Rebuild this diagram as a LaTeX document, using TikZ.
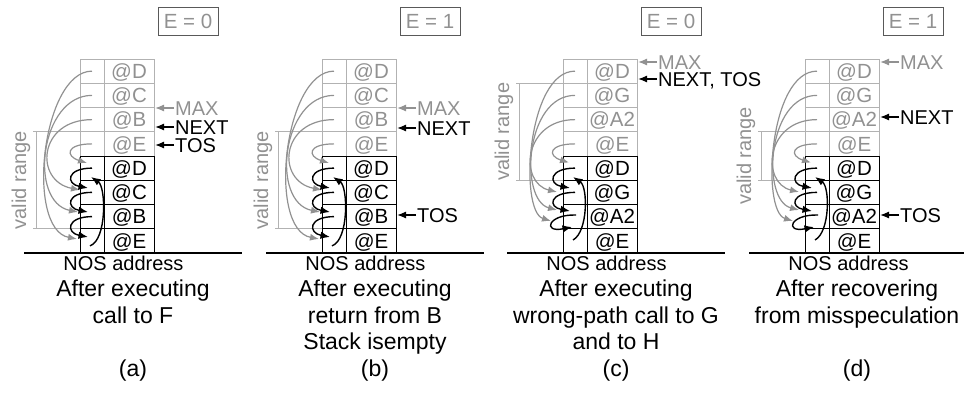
\documentclass[tikz,border=0pt]{standalone}
\usepackage{fontspec}
\setmainfont{Liberation Sans}
\usetikzlibrary{arrows.meta,calc}
\definecolor{gtxt}{gray}{0.57}
\definecolor{gln}{gray}{0.70}
\definecolor{boxln}{gray}{0.35}
\tikzset{
  cellbase/.style={inner sep=0pt, outer sep=0pt, minimum height=24.25pt, line width=0.9pt,
    font=\fontsize{20.5}{20.5}\selectfont, text height=14.6pt, text depth=0pt},
  gL/.style={cellbase, draw=gln, minimum width=24pt},
  gR/.style={cellbase, draw=gln, minimum width=50pt, text=gtxt},
  bL/.style={cellbase, draw=black, minimum width=24pt},
  bR/.style={cellbase, draw=black, minimum width=50pt, text=black},
  garr/.style={draw=gtxt, line width=1.2pt, -{Latex[length=9pt,width=7pt]}},
  barr/.style={draw=black, line width=1.4pt, -{Latex[length=9.5pt,width=7.5pt]}},
  ptr/.style={line width=1.3pt, -{Latex[length=9pt,width=7pt]}},
  lbl/.style={font=\fontsize{20}{20}\selectfont, inner sep=0pt, text height=14.3pt, text depth=0pt, anchor=west},
  captxt/.style={font=\fontsize{23}{23}\selectfont, inner sep=0pt, anchor=base},
  nos/.style={font=\fontsize{20}{20}\selectfont, inner sep=0pt, anchor=base},
  vrtext/.style={font=\fontsize{20}{20}\selectfont, text=gtxt, inner sep=0pt, rotate=90},
  vrline/.style={draw=gln, line width=0.9pt},
  ebox/.style={draw=boxln, line width=0.9pt, text=gtxt, font=\fontsize{20.5}{20.5}\selectfont,
    minimum width=60pt, minimum height=28pt, inner sep=0pt, text height=14.6pt, text depth=0pt},
  ground/.style={draw=black, line width=1.3pt},
}
% table: #1 prefix, #2 X, #3-#6 entry names
\newcommand\rsTable[6]{%
  \begin{scope}[shift={(#2,0)}]
    \foreach \i/\t in {1/#3,2/#4,3/#5,4/#6}{%
      \node[gL] (#1l\i) at (12,{59+(\i-0.5)*24.25}) {};
      \node[gR] (#1r\i) at (49,{59+(\i-0.5)*24.25}) {@\t};
    }
    \foreach \i/\t in {5/#3,6/#4,7/#5,8/#6}{%
      \node[bL] (#1l\i) at (12,{59+(\i-0.5)*24.25}) {};
      \node[bR] (#1r\i) at (49,{59+(\i-0.5)*24.25}) {@\t};
    }
  \end{scope}}
% valid range: #1 prefix, #2 X, #3 top, #4 bottom
\newcommand\rsRange[4]{%
  \coordinate (#1vt) at (#2-47,#3);
  \coordinate (#1vb) at (#2-47,#4);
  \coordinate (#1vtr) at (#2,#3);
  \coordinate (#1vbr) at (#2,#4);
  \coordinate (#1vtc) at (#2-44,#3);
  \coordinate (#1vbc) at (#2-44,#4);
  \draw[vrline] (#1vt) -- (#1vtr);
  \draw[vrline] (#1vb) -- (#1vbr);
  \draw[vrline] (#1vtc) -- (#1vbc);
  \node[vrtext] (#1vr) at (#2-59,{(#3+#4)/2}) {valid range};}
% pointer: #1 name, #2 X, #3 y, #4 text, #5 colour
\newcommand\rsPtr[5]{%
  \node[lbl, text=#5] (#1) at (#2+95,#3) {#4};
  \coordinate (#1t) at (#2+75,#3);
  \draw[ptr, draw=#5] ([xshift=-1pt]#1.west) -- (#1t);}
\newcommand\rsArrAB[1]{%
  \draw[garr] (#1l1.center) .. controls +(-50,0) and +(-52,-10) .. ($(#1l8.center)+(-15,-1.9)$);
  \draw[garr] (#1l2.center) .. controls +(-52,0) and +(-50,-10) .. ($(#1l7.center)+(-14,-4.6)$);
  \draw[garr] (#1l3.center) .. controls +(-54,0) and +(-46,-9) .. ($(#1l6.center)+(-12,-2.4)$);
  \draw[garr] (#1l4.center) .. controls +(-26,0) and +(-22,-7) .. ($(#1l5.center)+(-5,-5.1)$);
  \draw[barr] (#1l5.center) .. controls +(-26,0) and +(-22,-4) .. ($(#1l6.center)+(-4,-4.4)$);
  \draw[barr] (#1l6.center) .. controls +(-26,0) and +(-22,-4) .. ($(#1l7.center)+(-4,-4.6)$);
  \draw[barr] (#1l7.center) .. controls +(-26,0) and +(-22,-4) .. ($(#1l8.center)+(-4,-3.9)$);
  \draw[barr] ($(#1l8.center)+(-2,5)$) .. controls +(17,-6) and +(15,10) .. ($(#1l6.center)+(-1,-15.4)$);}
\newcommand\rsArrCD[1]{%
  \draw[garr] (#1l1.center) .. controls +(-48,0) and +(-32,-10) .. ($(#1l7.center)+(-24,4.4)$);
  \draw[garr] (#1l2.center) .. controls +(-50,0) and +(-38,-10) .. ($(#1l7.center)+(-18,-6.6)$);
  \draw[garr] (#1l3.center) .. controls +(-52,0) and +(-38,-9) .. ($(#1l6.center)+(-18,-0.4)$);
  \draw[garr] (#1l4.center) .. controls +(-26,0) and +(-22,-7) .. ($(#1l5.center)+(-6,-5.5)$);
  \draw[barr] (#1l5.center) .. controls +(-26,0) and +(-22,-4) .. ($(#1l6.center)+(-5,-4.4)$);
  \draw[barr] (#1l6.center) .. controls +(-26,0) and +(-22,-4) .. ($(#1l7.center)+(-5,-5.6)$);
  \draw[barr] ($(#1l7.center)+(1,-1.6)$) .. controls +(-28,-1) and +(-30,6) .. ($(#1l7.center)+(-3,10.4)$);
  \draw[barr] ($(#1l8.center)+(-2,-0.9)$) .. controls +(15,-8) and +(15,10) .. ($(#1l6.center)+(-2,-15.4)$);}
% common parts: #1 prefix, #2 X, #3 E text
\newcommand\rsCommon[3]{%
  \node[ebox] (#1E) at (#2+108,21) {#3};
  \coordinate (#1g0) at (#2-56,253);
  \coordinate (#1g1) at ({min(#2+162,964)},253);
  \draw[ground] (#1g0) -- (#1g1);
  \node[nos] (#1nos) at (#2+43.5,270.7) {NOS address};}

\begin{document}
\begin{tikzpicture}[x=1pt,y=-1pt]
\useasboundingbox (0,0) rectangle (964,394);

% ---------- (a)
\rsTable{a}{80}{D}{C}{B}{E}
\rsRange{a}{80}{131.75}{228.75}
\rsArrAB{a}
\rsPtr{aMAX}{80}{108}{MAX}{gtxt}
\rsPtr{aNEXT}{80}{127}{NEXT}{black}
\rsPtr{aTOS}{80}{145}{TOS}{black}
\rsCommon{a}{80}{E = 0}
\node[captxt] (ac1) at (133,296.7) {After executing};
\node[captxt] (ac2) at (133,323.3) {call to F};
\node[captxt] (ac3) at (133,376) {(a)};

% ---------- (b)
\rsTable{b}{322}{D}{C}{B}{E}
\rsRange{b}{322}{131.75}{228.75}
\rsArrAB{b}
\rsPtr{bMAX}{322}{108}{MAX}{gtxt}
\rsPtr{bNEXT}{322}{128}{NEXT}{black}
\rsPtr{bTOS}{322}{215}{TOS}{black}
\rsCommon{b}{322}{E = 1}
\node[captxt] (bc1) at (375,296.7) {After executing};
\node[captxt] (bc2) at (375,323.3) {return from B};
\node[captxt] (bc3) at (375,349.9) {Stack isempty};
\node[captxt] (bc4) at (375,376) {(b)};

% ---------- (c)
\rsTable{c}{563}{D}{G}{A2}{E}
\rsRange{c}{563}{83.25}{180.25}
\rsArrCD{c}
\rsPtr{cMAX}{563}{62}{MAX}{gtxt}
\rsPtr{cNT}{563}{79}{NEXT, TOS}{black}
\rsCommon{c}{563}{E = 0}
\node[captxt] (cc1) at (616,296.7) {After executing};
\node[captxt] (cc2) at (616,323.3) {wrong-path call to G};
\node[captxt] (cc3) at (616,349.9) {and to H};
\node[captxt] (cc4) at (616,376) {(c)};

% ---------- (d)
\rsTable{d}{805}{D}{G}{A2}{E}
\rsRange{d}{805}{131.75}{180.25}
\rsArrCD{d}
\rsPtr{dMAX}{805}{62}{MAX}{gtxt}
\rsPtr{dNEXT}{805}{117}{NEXT}{black}
\rsPtr{dTOS}{805}{215}{TOS}{black}
\rsCommon{d}{805}{E = 1}
\node[captxt] (dc1) at (857,296.7) {After recovering};
\node[captxt] (dc2) at (857,323.3) {from misspeculation};
\node[captxt] (dc3) at (857,376) {(d)};
\end{tikzpicture}
\end{document}
